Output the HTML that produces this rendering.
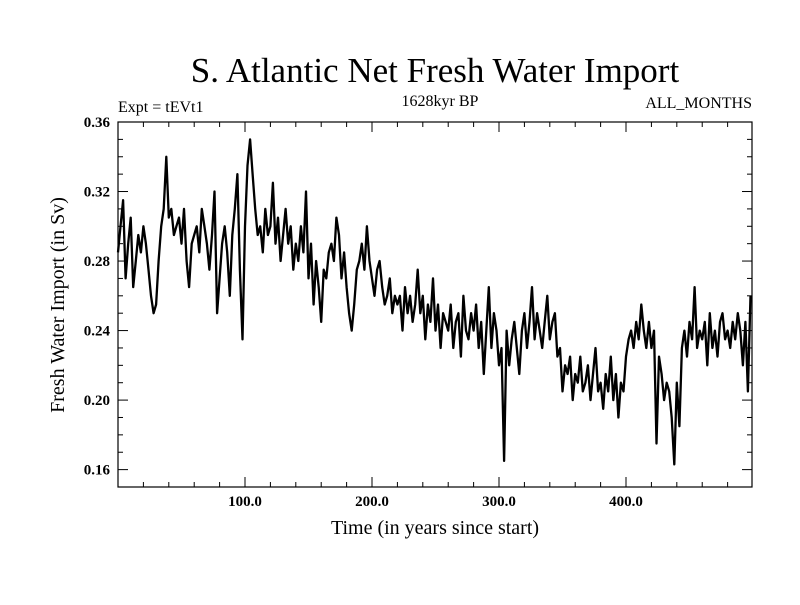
<!DOCTYPE html>
<html><head><meta charset="utf-8"><style>
body{margin:0;background:#fff}
svg text{font-family:"Liberation Serif",serif;fill:#000}
</style></head><body>
<svg id="chart" width="800" height="600" viewBox="0 0 800 600" xmlns="http://www.w3.org/2000/svg">
<rect width="800" height="600" fill="#fff"/>
<text x="435" y="82" font-size="35" text-anchor="middle">S. Atlantic Net Fresh Water Import</text>
<text x="118" y="112" font-size="16">Expt = tEVt1</text>
<text x="440" y="106" font-size="16" text-anchor="middle">1628kyr BP</text>
<text x="752" y="108" font-size="16" text-anchor="end">ALL_MONTHS</text>
<text transform="translate(64,305) rotate(-90)" font-size="20" text-anchor="middle">Fresh Water Import (in Sv)</text>
<text x="435" y="534" font-size="20" text-anchor="middle">Time (in years since start)</text>
<g id="ticks"></g>
<path id="series" fill="none" stroke="#000" stroke-width="2.3" stroke-linejoin="round"/>
<rect x="118" y="122" width="634" height="365" fill="none" stroke="#000" stroke-width="1.2"/>
</svg>
<script>
const yearStep = 2;
const values = [
.285,.30,.315,.27,.29,.305,.265,.28,.295,.285,
.30,.29,.275,.26,.25,.255,.28,.30,.31,.34,
.305,.31,.295,.30,.305,.29,.31,.28,.265,.29,
.295,.30,.285,.31,.30,.29,.275,.295,.32,.25,
.27,.29,.30,.285,.26,.295,.31,.33,.275,.235,
.30,.335,.35,.33,.31,.295,.30,.285,.31,.295,
.30,.325,.29,.305,.28,.295,.31,.29,.30,.275,
.29,.28,.30,.285,.32,.27,.29,.255,.28,.265,
.245,.275,.27,.285,.29,.28,.305,.295,.27,.285,
.265,.25,.24,.255,.275,.28,.29,.275,.30,.28,
.27,.26,.275,.28,.265,.255,.26,.27,.25,.26,
.255,.26,.24,.265,.25,.26,.245,.255,.275,.25,
.26,.235,.255,.245,.27,.24,.255,.23,.25,.245,
.24,.255,.23,.245,.25,.225,.26,.24,.235,.25,
.24,.255,.23,.245,.215,.24,.265,.23,.25,.24,
.22,.23,.165,.24,.22,.235,.245,.23,.215,.24,
.25,.23,.245,.265,.235,.25,.24,.23,.245,.26,
.235,.245,.25,.225,.23,.205,.22,.215,.225,.20,
.215,.21,.225,.205,.21,.22,.20,.215,.23,.205,
.21,.195,.215,.205,.225,.20,.215,.19,.21,.205,
.225,.235,.24,.23,.245,.235,.255,.24,.23,.245,
.23,.24,.175,.225,.215,.20,.21,.205,.19,.163,
.21,.185,.23,.24,.225,.245,.235,.265,.23,.24,
.235,.245,.22,.25,.23,.24,.225,.245,.25,.235,
.24,.23,.245,.235,.25,.24,.22,.245,.205,.26];
const xTickLabels = ["100.0","200.0","300.0","400.0"];
const xTickValues = [100,200,300,400];
const yTickValues = [0.16,0.20,0.24,0.28,0.32,0.36];
const yTickLabels = ["0.16","0.20","0.24","0.28","0.32","0.36"];
const X0=118,X1=752,Y0=122,Y1=487, xMin=0,xMax=499.2,yMin=0.15,yMax=0.36;
const sx=v=>X0+(v-xMin)/(xMax-xMin)*(X1-X0);
const sy=v=>Y1-(v-yMin)/(yMax-yMin)*(Y1-Y0);
const NS="http://www.w3.org/2000/svg";
const g=document.getElementById('ticks');
function line(x1,y1,x2,y2){const l=document.createElementNS(NS,'line');l.setAttribute('x1',x1);l.setAttribute('y1',y1);l.setAttribute('x2',x2);l.setAttribute('y2',y2);l.setAttribute('stroke','#000');l.setAttribute('stroke-width','1');


g.appendChild(l);}
function text(x,y,s,anchor){const t=document.createElementNS(NS,'text');t.setAttribute('x',x);t.setAttribute('y',y);t.setAttribute('font-size','15');t.setAttribute('font-weight','bold');t.setAttribute('text-anchor',anchor);t.textContent=s;


g.appendChild(t);}
for(let v=20;v<xMax;v+=20){const x=sx(v);const major=v%100===0;const L=major?10:5;line(x,Y1,x,Y1-L);line(x,Y0,x,Y0+L);}
xTickValues.forEach((v,i)=>text(sx(v),Y1+19,xTickLabels[i],'middle'));
for(let k=16;k<=36;k++){const v=k/100,y=sy(v);const major=k%4===0;const L=major?10:5;line(X0,y,X0+L,y);line(X1,y,X1-L,y);}
yTickValues.forEach((v,i)=>text(X0-8,sy(v)+5,yTickLabels[i],'end'));
let d='';values.forEach((v,i)=>{d+=(i?'L':'M')+sx(i*yearStep).toFixed(1)+','+sy(v).toFixed(1);});
document.getElementById('series').setAttribute('d',d);
</script>
</body></html>
